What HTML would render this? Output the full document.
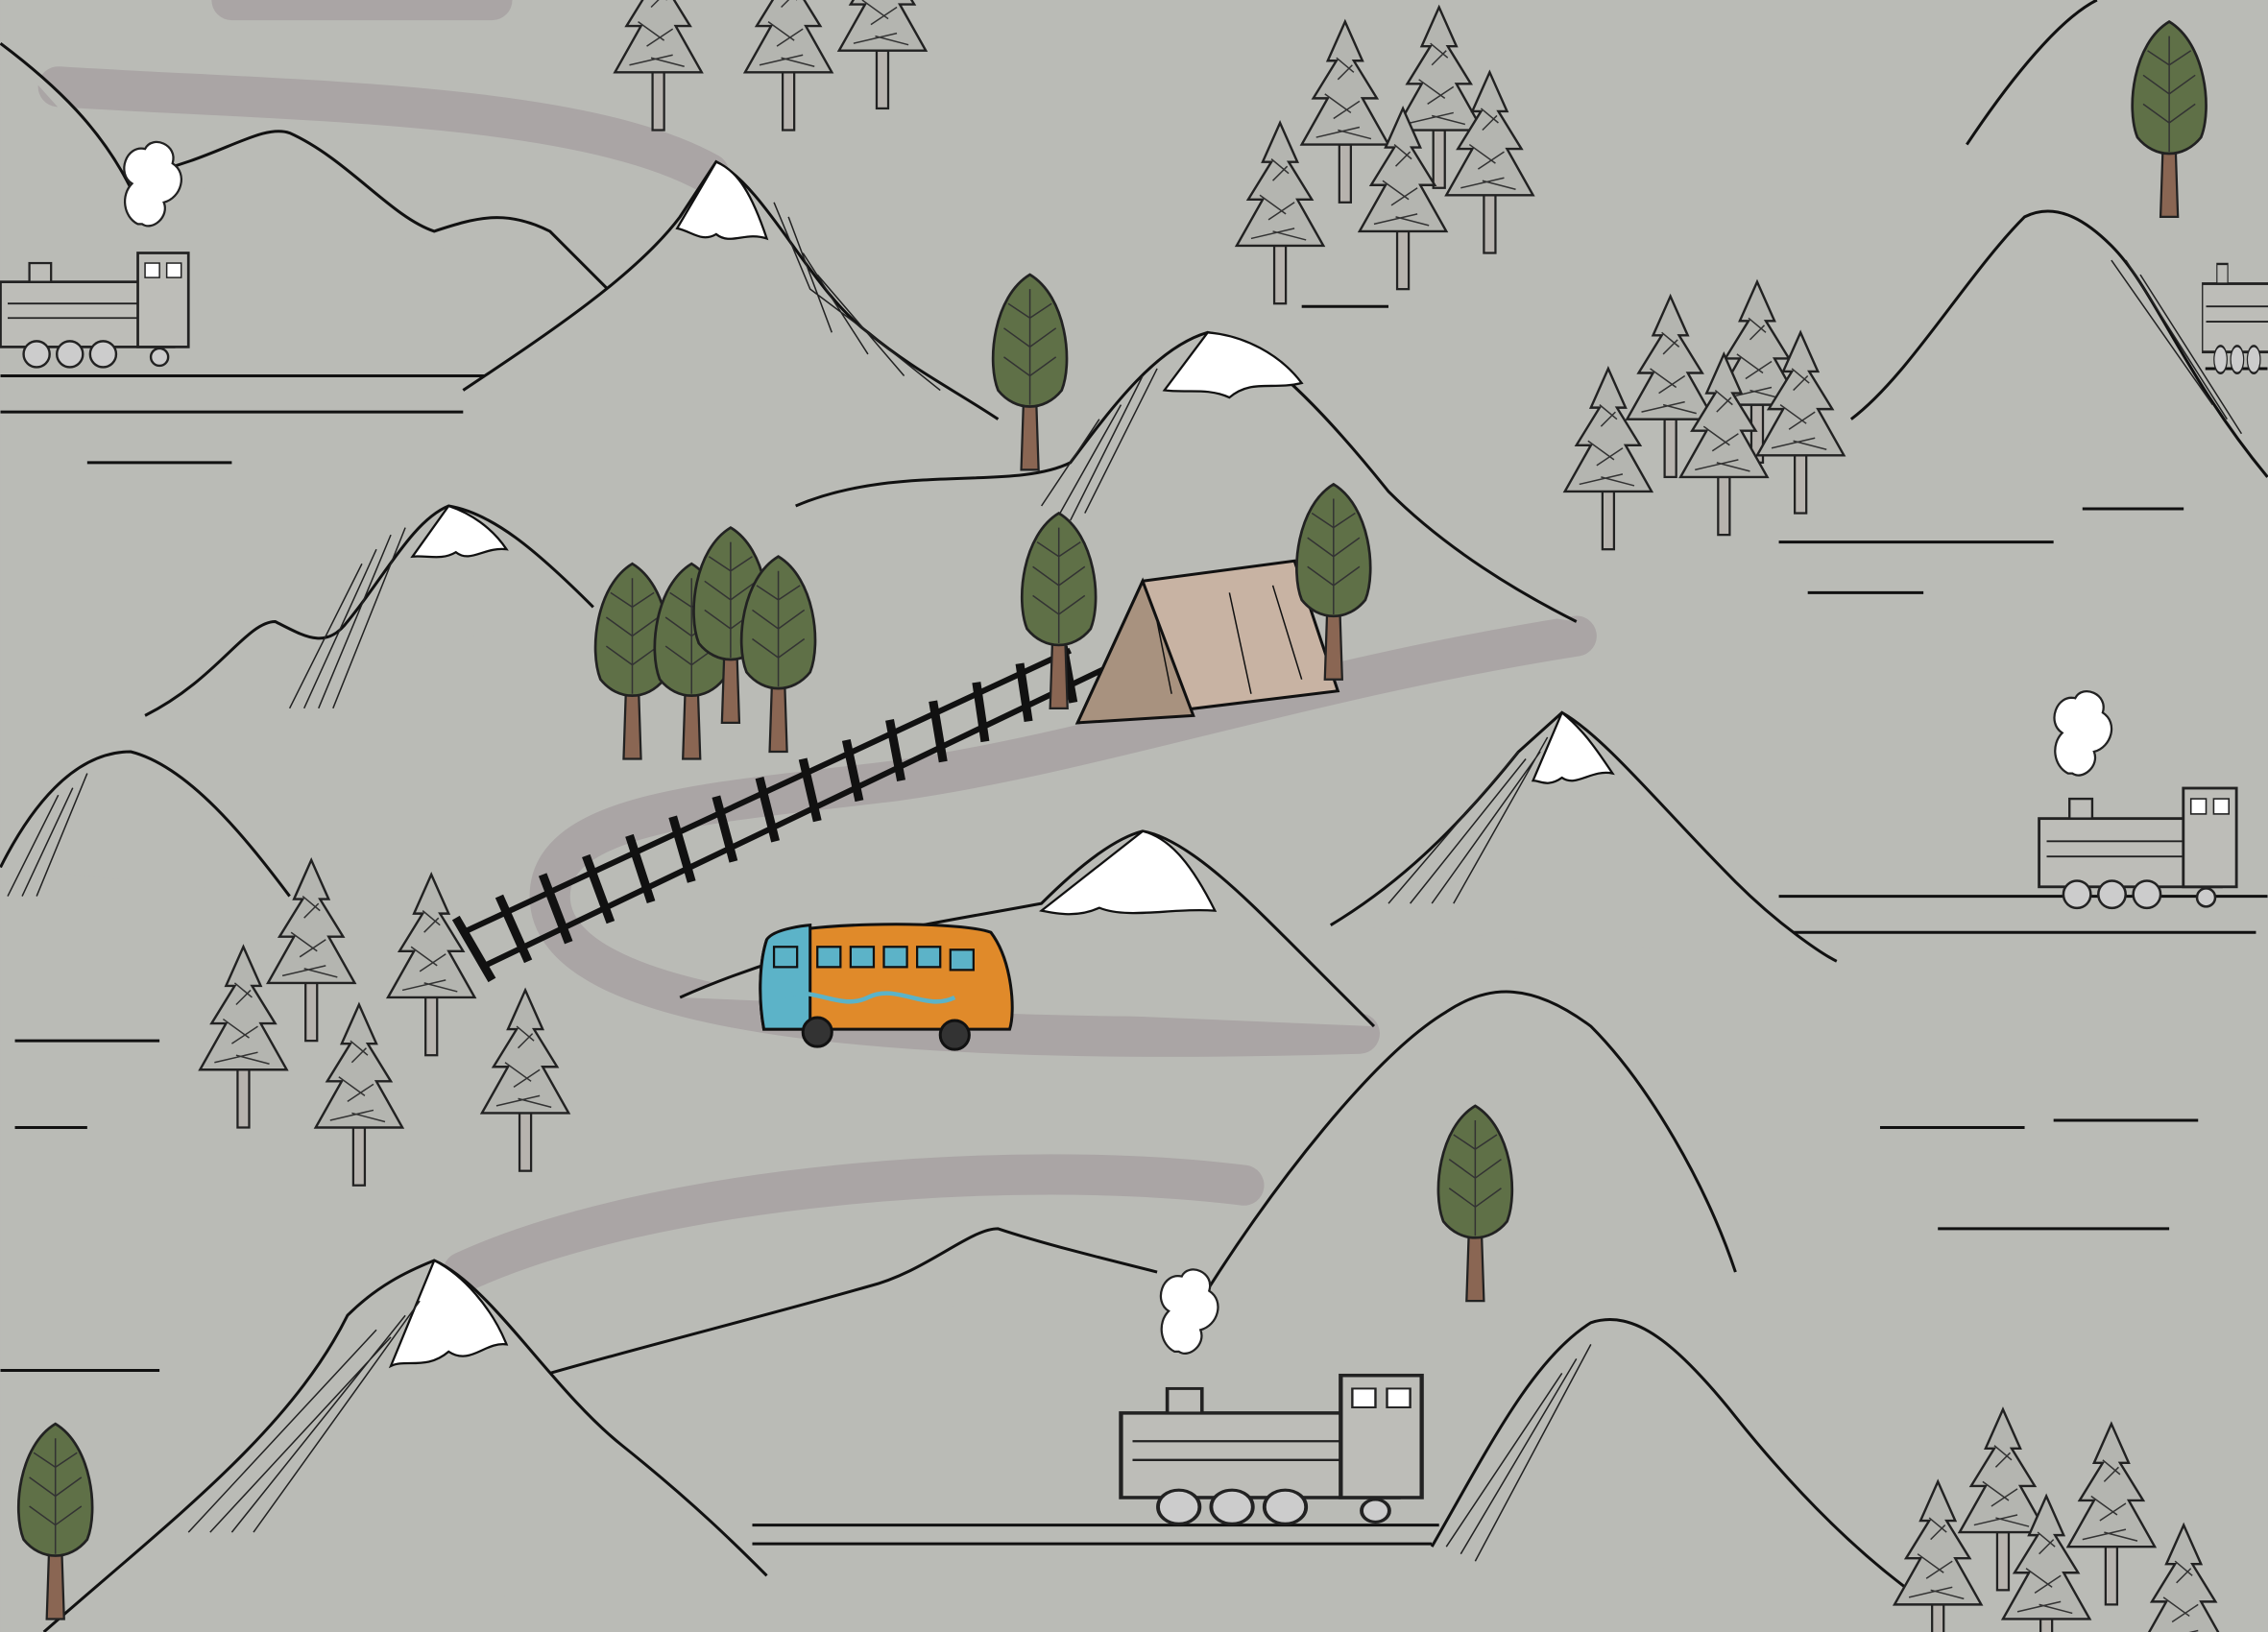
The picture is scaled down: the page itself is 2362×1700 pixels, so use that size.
<!DOCTYPE html>
<html><head><meta charset="utf-8"><style>
html,body{margin:0;padding:0;background:#babbb6;}
svg{display:block}
</style></head><body>
<svg id="s" width="2362" height="1700" viewBox="0 0 1568 1129" xmlns="http://www.w3.org/2000/svg">
<defs>
<g id="pine">
 <rect x="-4" y="40" width="8" height="40" fill="#b7b3ae" stroke="#222" stroke-width="1.5"/>
 <path d="M0,-45 L-12,-18 L-6,-18 L-22,8 L-12,8 L-30,40 L30,40 L12,8 L22,8 L6,-18 L12,-18 Z" fill="#b4b5b0" stroke="#222" stroke-width="1.6"/>
 <path d="M-6,-20 L6,-10 M-14,5 L4,18 M-20,35 L10,28 M5,-15 L-5,-5 M10,10 L-8,22 M18,36 L-5,30" stroke="#333" stroke-width="1"/>
</g>
<g id="gtree">
 <path d="M-4,20 L-6,80 L6,80 L4,20 Z" fill="#8a6653" stroke="#222" stroke-width="1.5"/>
 <path d="M0,-55 C25,-40 30,5 22,25 C10,40 -10,40 -22,25 C-30,5 -25,-40 0,-55 Z" fill="#5f7047" stroke="#222" stroke-width="1.8"/>
 <path d="M0,-45 L0,35 M0,-25 L-15,-35 M0,-25 L15,-35 M0,-5 L-18,-18 M0,-5 L18,-18 M0,15 L-18,2 M0,15 L18,2" stroke="#333" stroke-width="1" fill="none"/>
</g>
<g id="train">
 <rect x="0" y="25" width="120" height="45" fill="#bdbdb8" stroke="#222" stroke-width="1.8"/>
 <rect x="95" y="5" width="35" height="65" fill="#bdbdb8" stroke="#222" stroke-width="1.8"/>
 <rect x="100" y="12" width="10" height="10" fill="#fff" stroke="#222"/>
 <rect x="115" y="12" width="10" height="10" fill="#fff" stroke="#222"/>
 <rect x="20" y="12" width="15" height="13" fill="#bdbdb8" stroke="#222" stroke-width="1.5"/>
 <path d="M5,40 H95 M5,50 H95" stroke="#222" stroke-width="1.2"/>
 <circle cx="25" cy="75" r="9" fill="#ccc" stroke="#222" stroke-width="1.6"/>
 <circle cx="48" cy="75" r="9" fill="#ccc" stroke="#222" stroke-width="1.6"/>
 <circle cx="71" cy="75" r="9" fill="#ccc" stroke="#222" stroke-width="1.6"/>
 <circle cx="110" cy="77" r="6" fill="#ccc" stroke="#222" stroke-width="1.6"/>
</g>
<g id="smoke">
 <path d="M0,0 C-10,-5 -12,-20 -4,-28 C-15,-35 -8,-55 5,-52 C10,-62 28,-55 24,-42 C35,-35 30,-18 18,-15 C22,-5 10,5 3,0 Z" fill="#fff" stroke="#222" stroke-width="1.5"/>
</g>
</defs>

<rect width="1568" height="1129" fill="#babbb6"/>

<!-- roads -->
<g fill="none" stroke="#aaa5a5" stroke-width="28" stroke-linecap="round">
 <path d="M40,60 C200,70 400,70 490,120"/>
 <path d="M1090,440 C900,470 760,520 620,540 C500,555 380,560 380,620 C380,700 600,725 940,715"/>
 <path d="M860,820 C700,800 450,820 320,880"/>
 <path d="M160,0 L340,0"/>
</g>

<g id="mtns"></g>

<!-- snow caps -->
<g fill="#fff" stroke="#111" stroke-width="1.5">
 <path d="M468,158 L495,112 C510,118 520,135 530,165 C515,160 505,170 495,162 C485,168 478,160 468,158 Z"/>
 <path d="M805,270 L835,230 C860,232 885,245 900,265 C880,270 865,262 850,275 C835,268 820,272 805,270 Z"/>
 <path d="M285,385 L310,350 C325,355 340,365 350,380 C335,378 325,390 315,382 C305,388 295,384 285,385 Z"/>
 <path d="M1060,540 L1080,493 C1095,505 1105,520 1115,535 C1100,532 1090,545 1080,538 C1070,545 1065,540 1060,540 Z"/>
 <path d="M720,630 L790,575 C810,580 825,600 840,630 C810,628 780,636 760,628 C745,635 730,632 720,630 Z"/>
 <path d="M270,945 L300,872 C320,882 340,905 350,930 C335,928 325,945 310,935 C295,948 280,940 270,945 Z"/>
</g>
<!-- hatching shading -->
<g stroke="#222" stroke-width="1" fill="none">
 <path d="M535,140 L560,200 L600,230 L650,270 M545,150 L575,230 M555,175 L600,245 M565,190 L625,260"/>
 <path d="M720,350 L760,290 M730,360 L775,280 M740,360 L790,260 M750,355 L800,255"/>
 <path d="M200,490 L250,390 M210,490 L260,380 M220,490 L270,370 M230,490 L280,365"/>
 <path d="M5,620 L40,550 M15,620 L50,545 M25,620 L60,535"/>
 <path d="M960,625 L1050,520 M975,625 L1055,525 M990,625 L1065,520 M1005,625 L1070,510"/>
 <path d="M130,1060 L260,920 M145,1060 L270,925 M160,1060 L280,910 M175,1060 L290,900"/>
 <path d="M1000,1070 L1080,950 M1010,1075 L1090,940 M1020,1080 L1100,930"/>
 <path d="M1460,180 L1530,280 M1470,180 L1540,290 M1480,190 L1550,300"/>
</g>
<!-- ground lines -->
<g stroke="#111" stroke-width="2" fill="none">
 <path d="M0,260 H335 M0,285 H320"/>
 <path d="M1230,620 H1568 M1240,645 H1560"/>
 <path d="M520,1055 H995 M520,1068 H990"/>
 <path d="M1525,255 H1568"/>
 <path d="M10,720 H110 M10,780 H60 M1300,780 H1400 M1420,775 H1520 M1340,850 H1500 M1230,375 H1420 M1250,410 H1330 M1440,352 H1510 M0,948 H110 M60,320 H160 M900,212 H960"/>
</g>

<!-- railway track -->
<g stroke="#111">
 <path d="M320,645 L740,450" stroke-width="4"/>
 <path d="M335,668 L765,462" stroke-width="4"/>
 <g stroke-width="6">
  <path d="M315,635 L340,678"/><path d="M345,620 L365,665"/><path d="M375,605 L393,652"/>
  <path d="M405,592 L422,638"/><path d="M435,578 L450,624"/><path d="M465,565 L478,610"/>
  <path d="M495,551 L507,596"/><path d="M525,538 L536,582"/><path d="M555,525 L565,568"/>
  <path d="M585,512 L594,554"/><path d="M615,498 L623,540"/><path d="M645,485 L652,527"/>
  <path d="M675,472 L681,513"/><path d="M705,459 L711,499"/><path d="M735,447 L742,486"/>
 </g>
</g>

<!-- tent -->
<g stroke="#111" stroke-width="2">
 <path d="M745,500 L790,402 L895,388 L925,478 Z" fill="#c8b3a3"/>
 <path d="M745,500 L790,402 L825,495 Z" fill="#a8927f"/>
 <path d="M790,402 L825,495 M800,430 L810,480 M850,410 L865,480 M880,405 L900,470" fill="none" stroke-width="1"/>
</g>

<!-- pine trees -->
<use href="#pine" x="455" y="10"/><use href="#pine" x="545" y="10"/><use href="#pine" x="610" y="-5"/>
<use href="#pine" x="930" y="60"/><use href="#pine" x="995" y="50"/><use href="#pine" x="1030" y="95"/>
<use href="#pine" x="885" y="130"/><use href="#pine" x="970" y="120"/>
<use href="#pine" x="1155" y="250"/><use href="#pine" x="1215" y="240"/><use href="#pine" x="1245" y="275"/>
<use href="#pine" x="1112" y="300"/><use href="#pine" x="1192" y="290"/>
<use href="#pine" x="215" y="640"/><use href="#pine" x="298" y="650"/><use href="#pine" x="168" y="700"/>
<use href="#pine" x="248" y="740"/><use href="#pine" x="363" y="730"/>
<use href="#pine" x="1385" y="1020"/><use href="#pine" x="1460" y="1030"/><use href="#pine" x="1340" y="1070"/>
<use href="#pine" x="1415" y="1080"/><use href="#pine" x="1510" y="1100"/>

<!-- green trees -->
<use href="#gtree" x="712" y="245"/><use href="#gtree" x="1500" y="70"/>
<use href="#gtree" x="437" y="445"/><use href="#gtree" x="478" y="445"/><use href="#gtree" x="505" y="420"/>
<use href="#gtree" x="538" y="440"/><use href="#gtree" x="732" y="410"/><use href="#gtree" x="922" y="390"/>
<use href="#gtree" x="1020" y="820"/><use href="#gtree" x="38" y="1040"/>

<!-- bus -->
<g stroke="#111" stroke-width="2">
 <path d="M530,650 C540,638 660,636 685,645 C700,665 702,700 698,712 L528,712 C524,690 525,665 530,650 Z" fill="#e08a2a"/>
 <path d="M530,650 C535,642 560,640 560,640 L560,712 L528,712 C524,690 525,665 530,650 Z" fill="#5cb3c8"/>
 <path d="M540,690 C560,680 580,700 600,690 C620,680 640,700 660,690" fill="none" stroke="#5cb3c8" stroke-width="3"/>
 <g fill="#5cb3c8" stroke-width="1.5">
  <rect x="535" y="655" width="16" height="14"/><rect x="565" y="655" width="16" height="14"/>
  <rect x="588" y="655" width="16" height="14"/><rect x="611" y="655" width="16" height="14"/>
  <rect x="634" y="655" width="16" height="14"/><rect x="657" y="657" width="16" height="14"/>
 </g>
 <circle cx="565" cy="714" r="10" fill="#333"/><circle cx="660" cy="716" r="10" fill="#333"/>
</g>

<!-- trains -->
<use href="#train" x="0" y="170"/>
<use href="#smoke" x="95" y="155"/>
<use href="#train" x="1410" y="540" transform="translate(1410,540) scale(1.05) translate(-1410,-540)"/>
<use href="#smoke" x="1430" y="535"/>
<use href="#train" x="775" y="945" transform="translate(775,945) scale(1.6,1.3) translate(-775,-945)"/>
<use href="#smoke" x="812" y="935"/>
<use href="#train" x="1523" y="170" transform="translate(1523,170) scale(0.5,1.05) translate(-1523,-170)"/>
</svg>
<script>
var ridges=[
"M0,30 C40,60 70,90 90,130",
"M100,120 C150,110 180,85 200,92 C240,110 270,150 300,160 C330,150 350,145 380,160 L420,200",
"M1360,100 C1400,40 1430,10 1450,0",
"M320,270 C380,230 440,190 470,150 L495,112 C530,130 560,200 600,230 C630,255 660,270 690,290",
"M550,350 C620,320 700,340 740,320 C770,280 800,240 835,230 C870,235 920,290 960,340 C1000,380 1050,410 1090,430",
"M1280,290 C1320,260 1360,190 1400,150 C1420,140 1440,150 1460,170 C1490,200 1510,260 1568,330",
"M100,495 C150,470 170,430 190,430 C210,440 225,450 240,430 C265,400 285,360 310,350 C340,355 370,380 410,420",
"M0,600 C20,560 50,520 90,520 C130,530 170,580 200,620",
"M920,640 C970,610 1010,570 1050,520 L1080,493 C1110,510 1150,560 1200,610 C1230,640 1260,660 1270,665",
"M470,690 C560,650 640,640 720,625 C745,600 770,580 790,575 C820,580 860,620 890,650 C920,680 940,700 950,710",
"M830,900 C880,820 950,730 1000,700 C1030,680 1060,680 1100,710 C1140,750 1180,820 1200,880",
"M30,1129 C120,1050 200,990 240,910 C260,890 280,880 300,872 C340,890 380,960 430,1000 C480,1040 510,1070 530,1090",
"M380,950 C450,930 530,910 600,890 C640,880 670,850 690,850 C720,860 760,870 800,880",
"M990,1070 C1030,1000 1060,940 1100,915 C1130,905 1160,930 1200,980 C1240,1030 1280,1070 1320,1100"
];
var g=document.getElementById('mtns'),ns='http://www.w3.org/2000/svg';
ridges.forEach(function(d){
 var f=document.createElementNS(ns,'path');f.setAttribute('d',d+' Z');f.setAttribute('fill','#babbb6');g.appendChild(f);
 var s=document.createElementNS(ns,'path');s.setAttribute('d',d);s.setAttribute('fill','none');s.setAttribute('stroke','#111');s.setAttribute('stroke-width','2');g.appendChild(s);
});
</script>
</body></html>
